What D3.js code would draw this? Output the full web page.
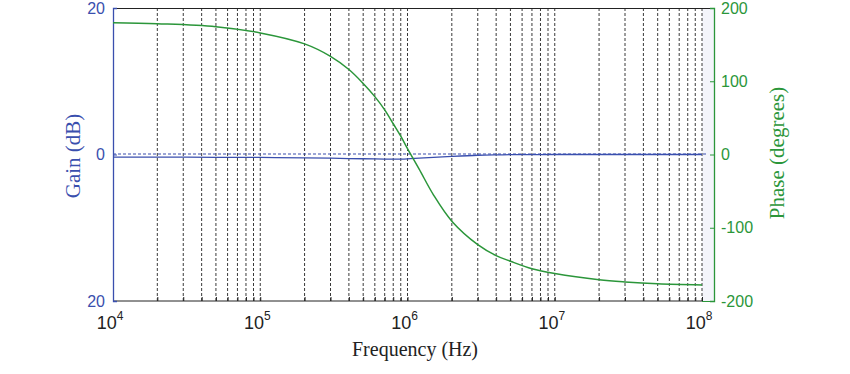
<!DOCTYPE html>
<html>
<head>
<meta charset="utf-8">
<script src="https://cdn.jsdelivr.net/npm/d3@7"></script>
<style>
  body { margin: 0; background: #fff; }
  svg text { font-family: 'Liberation Sans', Arial, sans-serif; }
  .serif { font-family: 'Liberation Serif', 'Times New Roman', serif; }
</style>
</head>
<body>
<div class="graphic"></div>
<script>
// frequency points (Hz)
const freqs = [1e4, 2e4, 5e4, 1e5, 2e5, 3e5, 4e5, 5e5, 6e5, 7e5, 8e5, 9e5, 1e6,
  1.2e6, 1.5e6, 2e6, 3e6, 4e6, 5e6, 7e6, 1e7, 2e7, 3e7, 5e7, 1e8];
const gainDb = [-0.35, -0.36, -0.38, -0.4, -0.45, -0.5, -0.55, -0.58, -0.6, -0.62, -0.63, -0.63, -0.6,
  -0.5, -0.38, -0.25, -0.1, -0.05, -0.03, -0.01, 0, 0, 0, 0, 0];
const phaseDeg = [180, 178.5, 174.5, 166, 151, 134, 116, 97, 79, 61, 42, 25, 8,
  -20, -55, -91, -123, -138, -145.7, -156, -162.5, -171, -174, -176.5, -178];
const gainTicks = [-20, 0, 20];
const phaseTicks = [-200, -100, 0, 100, 200];
const decades = [4, 5, 6, 7, 8];

const blue = '#3a4fae';
const green = '#2b963a';

const width = 850, height = 374;
const plotLeft = 113, plotRight = 702, axisRight = 714, plotTop = 8, plotBottom = 301;

const svg = d3.select('.graphic').append('svg')
  .attr('width', width).attr('height', height);

const x = d3.scaleLog().domain([1e4, 1e8]).range([plotLeft, plotRight]);
const yGain = d3.scaleLinear().domain([-20, 20]).range([plotBottom, plotTop]);
const yPhase = d3.scaleLinear().domain([-200, 200]).range([plotBottom, plotTop]);

// faint strip between the end of the data and the phase axis
svg.append('rect')
  .attr('x', plotRight).attr('y', plotTop)
  .attr('width', axisRight - plotRight).attr('height', plotBottom - plotTop)
  .attr('fill', '#f4f5fb');

// vertical dashed grid at every 1..9 x 10^k
const gridVals = x.ticks().filter(d => d > 1e4);
svg.append('g')
  .selectAll('line')
  .data(gridVals)
  .enter()
  .append('line')
  .attr('x1', d => x(d)).attr('x2', d => x(d))
  .attr('y1', plotTop).attr('y2', plotBottom)
  .attr('stroke', '#3a3a3a')
  .attr('stroke-width', 1)
  .attr('stroke-dasharray', '3,2');

// zero gain reference line
svg.append('line')
  .attr('x1', plotLeft).attr('x2', plotRight + 4)
  .attr('y1', yGain(0) - 0.5).attr('y2', yGain(0) - 0.5)
  .attr('stroke', blue)
  .attr('stroke-width', 1.1)
  .attr('stroke-dasharray', '3,2');

// bottom axis
const xAxis = svg.append('g')
  .attr('transform', `translate(0,${plotBottom})`)
  .call(d3.axisBottom(x).tickValues(x.ticks()).tickSize(-4).tickFormat(''));
xAxis.select('.domain').attr('stroke', '#222').attr('d', `M${plotLeft},0H${plotRight}`);
xAxis.selectAll('.tick line').attr('stroke', '#222');

// top border
svg.append('line')
  .attr('x1', plotLeft).attr('x2', axisRight)
  .attr('y1', plotTop + 0.5).attr('y2', plotTop + 0.5)
  .attr('stroke', '#222');

// decade labels 10^k
const decLabels = svg.append('g')
  .selectAll('text')
  .data(decades)
  .enter()
  .append('text')
  .attr('x', d => x(Math.pow(10, d)) - 3)
  .attr('y', 329)
  .attr('text-anchor', 'middle')
  .attr('font-size', 18)
  .attr('fill', '#222');
decLabels.append('tspan').text('10');
decLabels.append('tspan')
  .attr('dy', -9)
  .attr('font-size', 12)
  .text(d => d);

// left gain axis
const gAxis = svg.append('g')
  .attr('transform', `translate(${plotLeft},0)`)
  .call(d3.axisLeft(yGain).tickValues(gainTicks).tickSize(-4).tickPadding(8)
    .tickFormat(d => String(Math.abs(d))));
gAxis.select('.domain').attr('stroke', blue).attr('stroke-width', 1.3);
gAxis.selectAll('.tick line').attr('stroke', blue);
gAxis.selectAll('.tick text')
  .attr('fill', blue)
  .attr('font-size', 16)
  .style('font-family', "'Liberation Sans', Arial, sans-serif");

// right phase axis
const pAxis = svg.append('g')
  .attr('transform', `translate(${axisRight},0)`)
  .call(d3.axisRight(yPhase).tickValues(phaseTicks).tickSize(-4).tickPadding(7)
    .tickFormat(d => String(d)));
pAxis.select('.domain').attr('stroke', green).attr('stroke-width', 1.3);
pAxis.selectAll('.tick line').attr('stroke', green);
pAxis.selectAll('.tick text')
  .attr('fill', green)
  .attr('font-size', 16)
  .style('font-family', "'Liberation Sans', Arial, sans-serif");

// green bottom bit under the strip
svg.append('line')
  .attr('x1', plotRight).attr('x2', axisRight)
  .attr('y1', plotBottom + 0.5).attr('y2', plotBottom + 0.5)
  .attr('stroke', green);

// curves
const gainLine = d3.line()
  .x((d, i) => x(freqs[i]))
  .y(d => yGain(d))
  .curve(d3.curveCatmullRom.alpha(0.5));
const phaseLine = d3.line()
  .x((d, i) => x(freqs[i]))
  .y(d => yPhase(d))
  .curve(d3.curveCatmullRom.alpha(0.5));

svg.append('path')
  .datum(gainDb)
  .attr('d', gainLine)
  .attr('fill', 'none')
  .attr('stroke', blue)
  .attr('stroke-width', 1.3);

svg.append('path')
  .datum(phaseDeg)
  .attr('d', phaseLine)
  .attr('fill', 'none')
  .attr('stroke', green)
  .attr('stroke-width', 1.5);

// axis titles
svg.append('text')
  .attr('class', 'serif')
  .attr('x', 415).attr('y', 356)
  .attr('text-anchor', 'middle')
  .attr('font-size', 20)
  .attr('fill', '#222')
  .text('Frequency (Hz)');

svg.append('text')
  .attr('class', 'serif')
  .attr('transform', 'translate(80,156) rotate(-90)')
  .attr('text-anchor', 'middle')
  .attr('font-size', 21)
  .attr('fill', blue)
  .text('Gain (dB)');

svg.append('text')
  .attr('class', 'serif')
  .attr('transform', 'translate(784,153) rotate(-90)')
  .attr('text-anchor', 'middle')
  .attr('font-size', 21)
  .attr('fill', green)
  .text('Phase (degrees)');
</script>
</body>
</html>
